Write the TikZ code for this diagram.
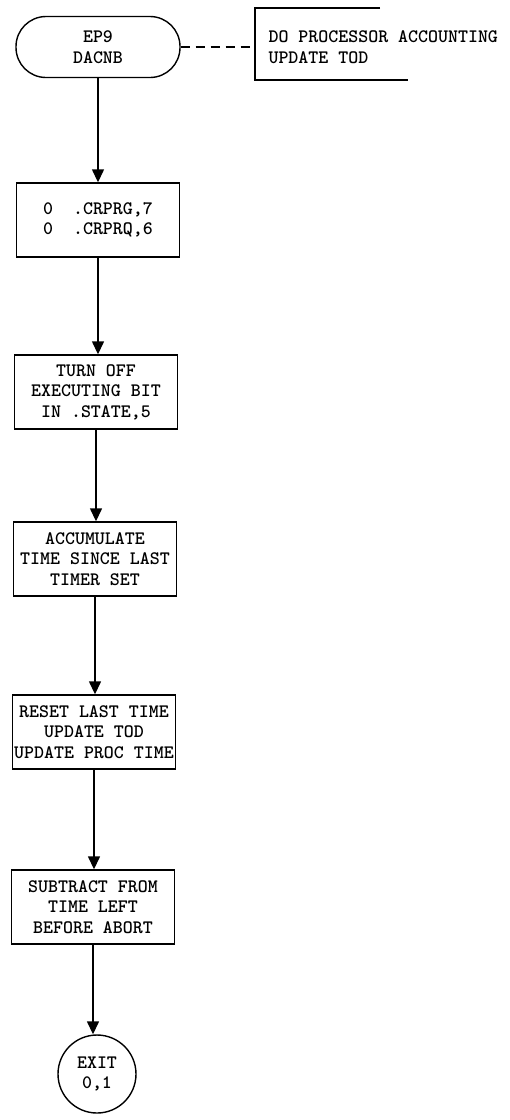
\documentclass[tikz,border=0pt]{standalone}
\usetikzlibrary{arrows.meta}
\begin{document}
\begin{tikzpicture}[x=1pt,y=-1pt,
  txt/.style={font=\ttfamily\bfseries\fontsize{19}{20.5}\selectfont, align=center},
  box/.style={txt, draw, line width=1.4pt, minimum width=163pt, minimum height=74pt, inner sep=0pt},
  term/.style={txt, draw, line width=1.4pt, minimum width=164pt, minimum height=61pt, rounded corners=30pt, inner sep=0pt},
  endc/.style={txt, draw, circle, line width=1.4pt, minimum size=78pt, inner sep=0pt},
  flow/.style={line width=1.4pt, -{Triangle[width=12pt,length=13pt]}},
  dashline/.style={line width=1.4pt, dash pattern=on 9pt off 6pt}]
\useasboundingbox (0,0) rectangle (510,1120);
\node[term] (t) at (98,47) {EP9\\DACNB};
\node[box] (b1) at (98,220) {0\ \ .CRPRG,7\\0\ \ .CRPRQ,6};
\node[box] (b2) at (96,392) {TURN OFF\\EXECUTING BIT\\IN .STATE,5};
\node[box] (b3) at (95,559) {ACCUMULATE\\TIME SINCE LAST\\TIMER SET};
\node[box] (b4) at (94,732) {RESET LAST TIME\\UPDATE TOD\\UPDATE PROC TIME};
\node[box] (b5) at (93,907) {SUBTRACT FROM\\TIME LEFT\\BEFORE ABORT};
\node[endc] (e) at (97,1074) {EXIT\\0,1};
% annotation
\coordinate (ct) at (380,8);
\coordinate (cb) at (408,80);
\coordinate (bt) at (255,8);
\coordinate (bb) at (255,80);
\coordinate (bm) at (255,47);
\draw[line width=1.4pt] (ct) -- (bt) -- (bb) -- (cb);
\draw[dashline] (t.east) -- (bm);
\node[txt, align=left, anchor=west] (note) at (265,47) {DO PROCESSOR ACCOUNTING\\UPDATE TOD};
% flow
\draw[flow] (t.south) -- (t.south |- b1.north);
\draw[flow] (b1.south) -- (b1.south |- b2.north);
\draw[flow] (b2.south) -- (b2.south |- b3.north);
\draw[flow] (b3.south) -- (b3.south |- b4.north);
\draw[flow] (b4.south) -- (b4.south |- b5.north);
\draw[flow] (b5.south) -- (b5.south |- e.north);
\end{tikzpicture}
\end{document}
